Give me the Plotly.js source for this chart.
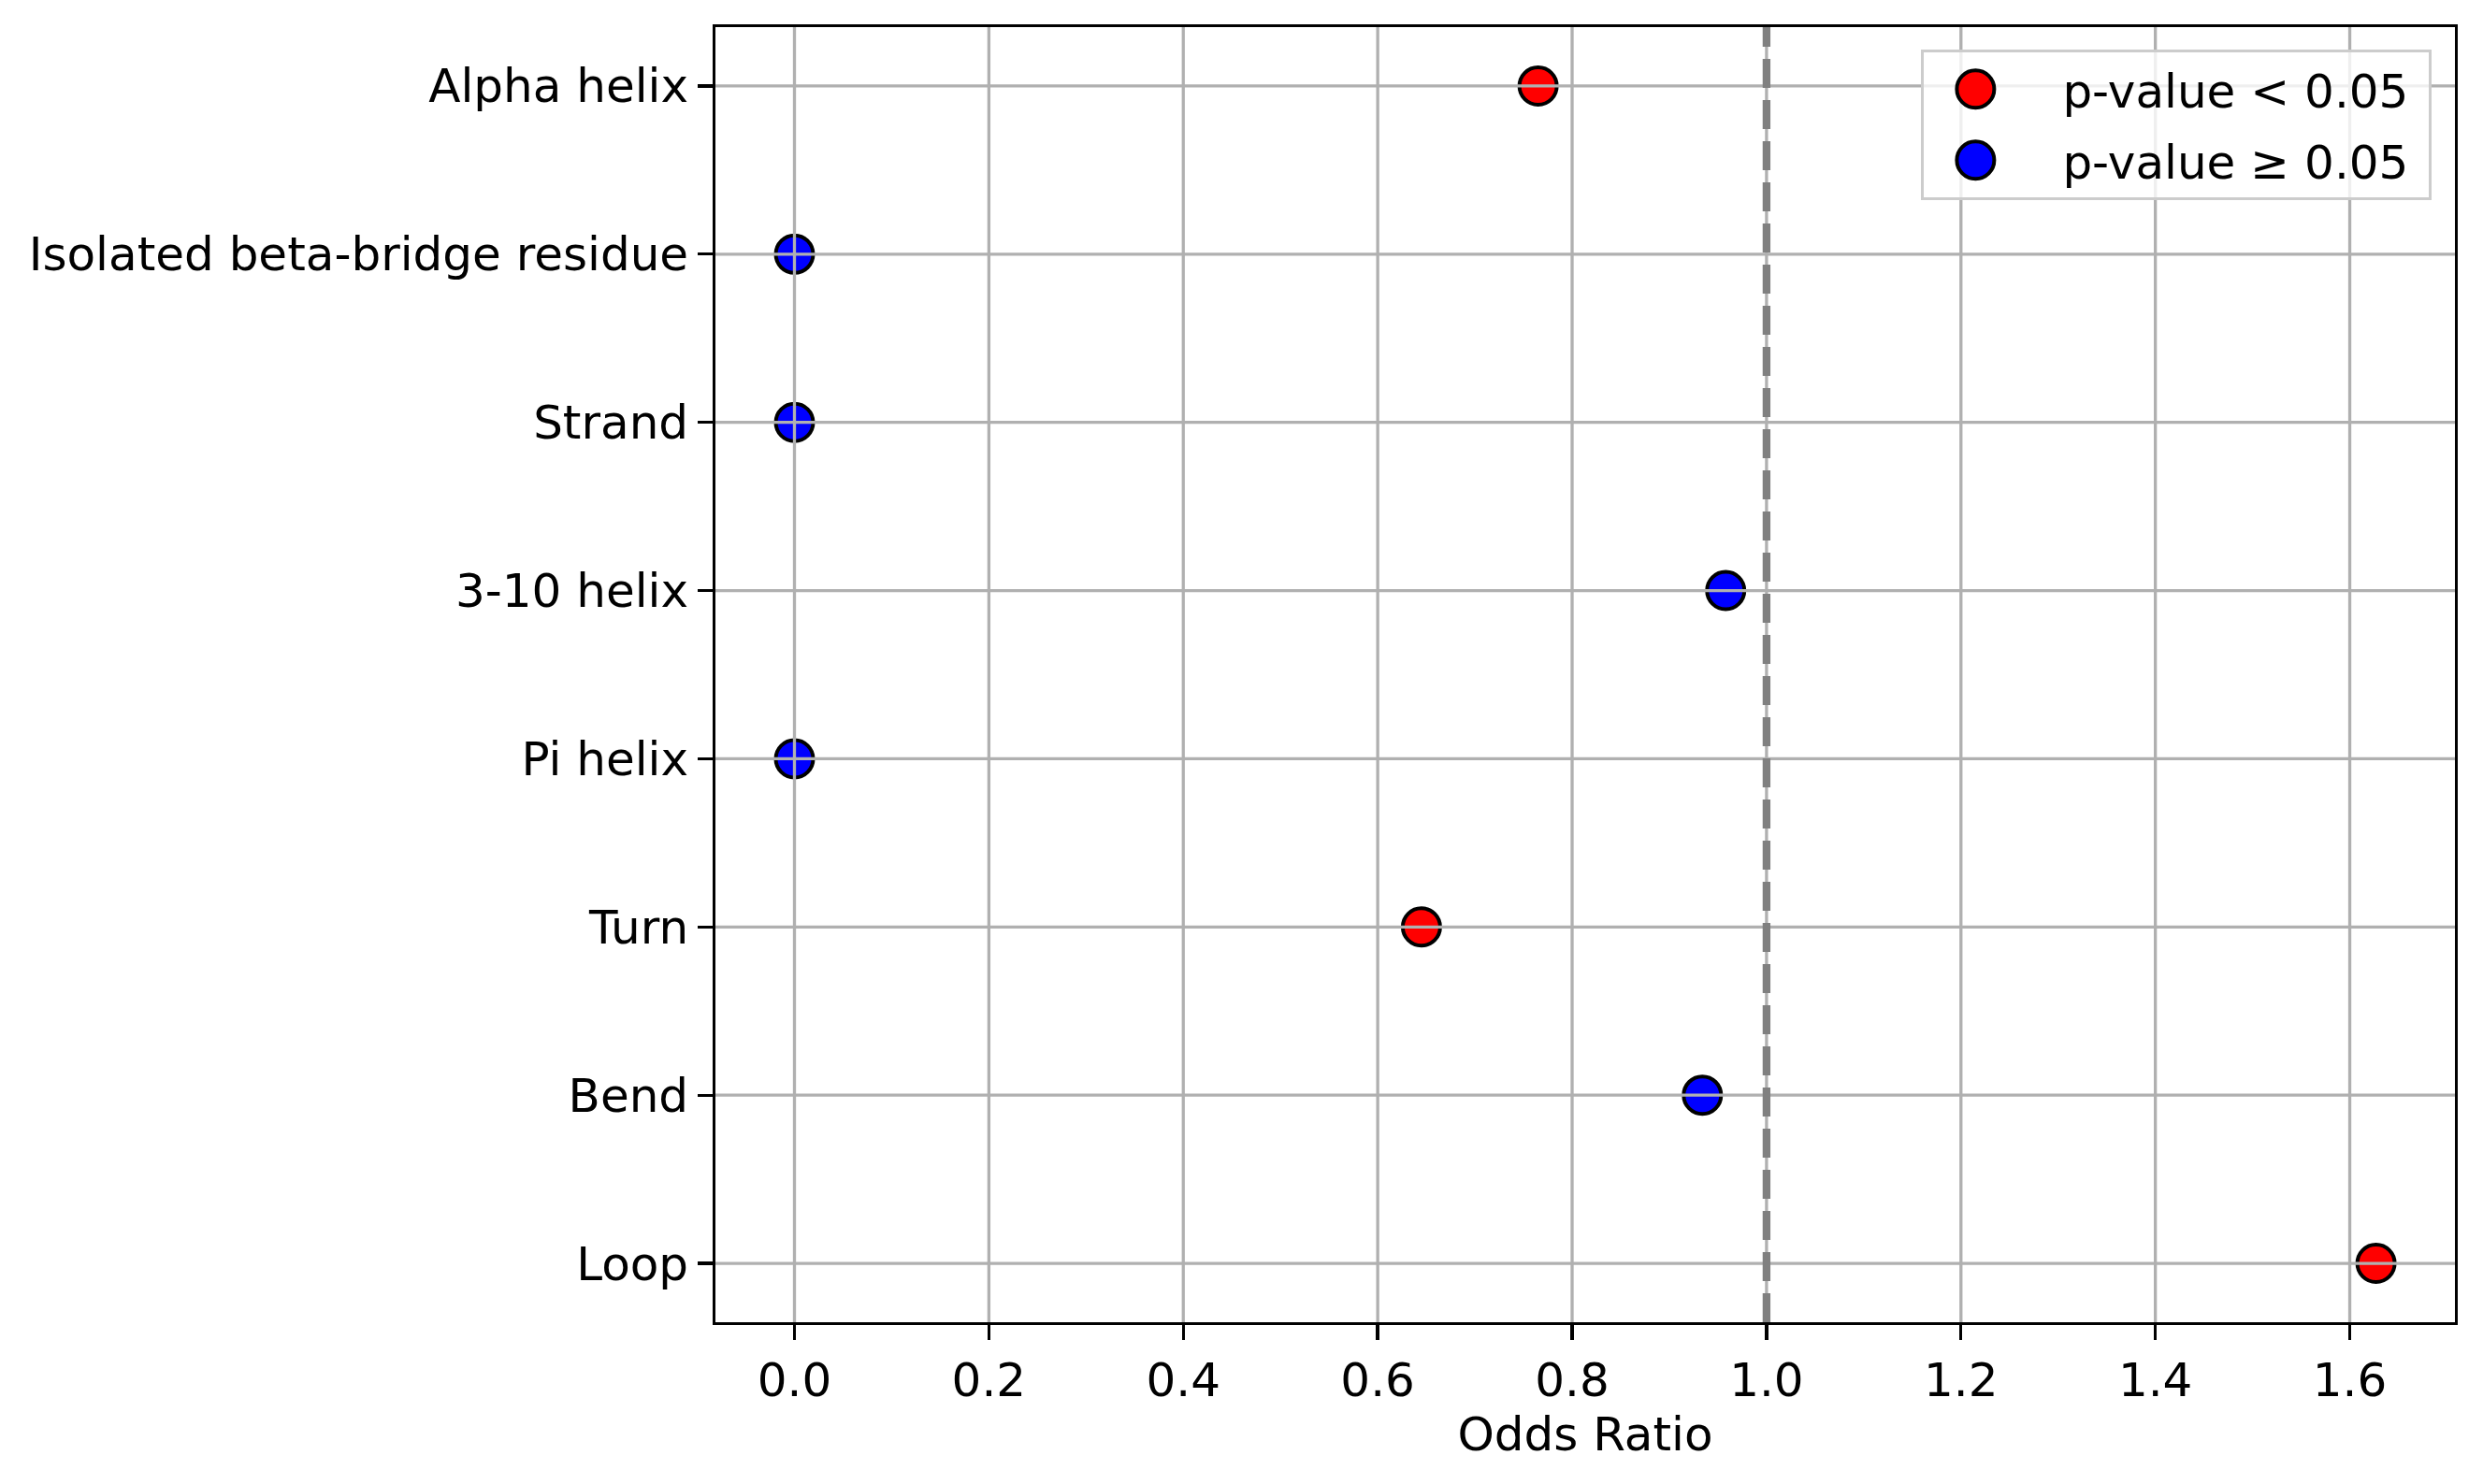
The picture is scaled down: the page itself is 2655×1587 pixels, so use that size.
<!DOCTYPE html>
<html>
<head>
<meta charset="utf-8">
<script src="https://cdn.plot.ly/plotly-3.0.1.min.js"></script>
<style>
  html, body { margin: 0; padding: 0; background: white; }
  #chart { width: 2655px; height: 1587px; }
</style>
</head>
<body>
<div id="chart"></div>
<script>
// Secondary structure categories, top to bottom
const categories = ['Alpha helix', 'Isolated beta-bridge residue', 'Strand', '3-10 helix',
                    'Pi helix', 'Turn', 'Bend', 'Loop'];
const oddsRatios = [0.765, 0, 0, 0.958, 0, 0.645, 0.934, 1.627];
const significant = [true, false, false, false, false, true, false, true];
const xTicks = [0, 0.2, 0.4, 0.6, 0.8, 1.0, 1.2, 1.4, 1.6];
const refLine = 1.0;

const FONT = 'DejaVu Sans, sans-serif';
const GRID = '#b0b0b0';

// split points into the two legend groups
const sigCats = [], sigVals = [], nsCats = [], nsVals = [];
categories.forEach((c, i) => {
    if (significant[i]) { sigCats.push(c); sigVals.push(oddsRatios[i]); }
    else { nsCats.push(c); nsVals.push(oddsRatios[i]); }
});

const markerStyle = color => ({
    color: color,
    size: 40,
    line: { color: 'black', width: 4 }
});

const traces = [
    {
        x: sigVals, y: sigCats,
        type: 'scatter', mode: 'markers',
        name: 'p-value &lt; 0.05&nbsp;',
        legendgroup: 'sig',
        marker: markerStyle('red')
    },
    {
        x: nsVals, y: nsCats,
        type: 'scatter', mode: 'markers',
        name: 'p-value ≥ 0.05&nbsp;',
        legendgroup: 'ns',
        marker: markerStyle('blue')
    }
];

// grid drawn above the markers, like matplotlib does
const shapes = [];
categories.forEach(c => {
    shapes.push({
        type: 'line', layer: 'above',
        xref: 'paper', x0: 0, x1: 1,
        yref: 'y', y0: c, y1: c,
        line: { color: GRID, width: 3.3 }
    });
});
xTicks.forEach(t => {
    shapes.push({
        type: 'line', layer: 'above',
        xref: 'x', x0: t, x1: t,
        yref: 'paper', y0: 0, y1: 1,
        line: { color: GRID, width: 3.3 }
    });
});
// reference line at OR = 1
shapes.push({
    type: 'line', layer: 'above',
    xref: 'x', x0: refLine, x1: refLine,
    yref: 'paper', y0: 0, y1: 1,
    line: { color: 'gray', width: 8.3, dash: '31px,13px' }
});

const layout = {
    width: 2655,
    height: 1587,
    margin: { l: 765, r: 30, t: 29, b: 173 },
    paper_bgcolor: 'white',
    plot_bgcolor: 'white',
    font: { family: FONT, size: 50, color: 'black' },
    showlegend: true,
    legend: {
        x: 0.9866, y: 0.9827,
        xanchor: 'right', yanchor: 'top',
        bgcolor: 'rgba(255,255,255,0.8)',
        bordercolor: '#cccccc',
        borderwidth: 3.3,
        tracegroupgap: 8,
        itemwidth: 138,
        font: { family: FONT, size: 50, color: 'black' }
    },
    xaxis: {
        range: [-0.0813, 1.7082],
        tickvals: xTicks,
        ticktext: xTicks.map(t => t.toFixed(1)),
        ticks: 'outside',
        ticklen: 15.6,
        tickwidth: 3.3,
        tickcolor: 'black',
        showgrid: false,
        zeroline: false,
        showline: true,
        mirror: true,
        linecolor: 'black',
        linewidth: 3.3,
        tickfont: { family: FONT, size: 50, color: 'black' },
        title: {
            text: 'Odds Ratio',
            font: { family: FONT, size: 50, color: 'black' },
            standoff: 5
        }
    },
    yaxis: {
        type: 'category',
        categoryorder: 'array',
        categoryarray: categories,
        range: [7.35, -0.35],
        ticks: 'outside',
        ticklen: 15.6,
        tickwidth: 3.3,
        tickcolor: 'black',
        ticklabelstandoff: 0,
        showgrid: false,
        zeroline: false,
        showline: true,
        mirror: true,
        linecolor: 'black',
        linewidth: 3.3,
        tickfont: { family: FONT, size: 50, color: 'black' }
    },
    shapes: shapes
};

Plotly.newPlot('chart', traces, layout, { staticPlot: true, displayModeBar: false }).then(gd => {
    // plotly caps legend symbols at 16px; enlarge them to match the plotted markers
    gd.querySelectorAll('.legend .traces').forEach(item => {
        const txt = item.querySelector('text.legendtext');
        const textX = txt ? parseFloat(txt.getAttribute('x')) : 150;
        item.querySelectorAll('.legendpoints path.scatterpts').forEach(p => {
            p.setAttribute('d', 'M20,0A20,20 0 1,1 0,-20A20,20 0 0,1 20,0Z');
            p.setAttribute('transform', 'translate(' + (textX - 93) + ',0)');
        });
    });
});
</script>
</body>
</html>
